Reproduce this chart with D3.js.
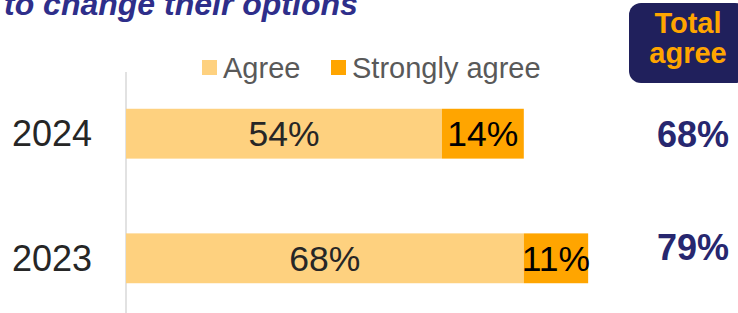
<!DOCTYPE html>
<html>
<head>
<meta charset="utf-8">
<script src="https://cdn.jsdelivr.net/npm/d3@7"></script>
<style>
  html, body { margin: 0; padding: 0; background: #fff; }
  svg { display: block; font-family: "Liberation Sans", Arial, sans-serif; }
</style>
</head>
<body>
<svg id="chart" width="738" height="313"></svg>
<script>
// Datos
const years = ["2024", "2023"];
const agree = [54, 68];
const stronglyAgree = [14, 11];
const totalAgree = [68, 79];
const seriesNames = ["Agree", "Strongly agree"];
const titleText = "to change their options";

// Colores
const cAgree = "#FED17F";
const cStrong = "#FFA500";
const navy = "#27276F";
const boxNavy = "#20205C";

const svg = d3.select("#chart");

// Escalas
const x = d3.scaleLinear().domain([0, 100]).range([126, 711]);
const y = d3.scaleBand().domain(years).range([34, 358]).padding(0.6);
const totalNudge = { "2023": -11 };

// Título (cortado arriba)
svg.append("text")
  .attr("x", 4).attr("y", 15)
  .attr("fill", "#2E2E8A")
  .attr("font-size", 32).attr("font-weight", "bold").attr("font-style", "italic")
  .text(titleText);

// Caja "Total agree"
svg.append("rect")
  .attr("x", 629).attr("y", 3).attr("width", 118).attr("height", 80)
  .attr("rx", 12).attr("fill", boxNavy);
svg.append("text")
  .attr("x", 688).attr("y", 33).attr("text-anchor", "middle")
  .attr("fill", cStrong).attr("font-size", 29).attr("font-weight", "bold")
  .text("Total");
svg.append("text")
  .attr("x", 688).attr("y", 63).attr("text-anchor", "middle")
  .attr("fill", cStrong).attr("font-size", 29).attr("font-weight", "bold")
  .text("agree");

// Leyenda
const legendX = [202, 331];
seriesNames.forEach((name, i) => {
  svg.append("rect")
    .attr("x", legendX[i]).attr("y", 60).attr("width", 15).attr("height", 15)
    .attr("fill", i === 0 ? cAgree : cStrong);
  svg.append("text")
    .attr("x", legendX[i] + 21).attr("y", 78)
    .attr("fill", "#595959").attr("font-size", 29)
    .text(name);
});

// Eje vertical
svg.append("line")
  .attr("x1", x(0)).attr("x2", x(0))
  .attr("y1", 72).attr("y2", 313)
  .attr("stroke", "#D9D9D9").attr("stroke-width", 1.5);

// Barras
const rows = years.map((yr, i) => ({ yr, a: agree[i], s: stronglyAgree[i], t: totalAgree[i] }));
const g = svg.append("g");

g.selectAll(".bar-a").data(rows).join("rect")
  .attr("x", x(0)).attr("y", d => y(d.yr))
  .attr("width", d => x(d.a) - x(0)).attr("height", y.bandwidth())
  .attr("fill", cAgree);

g.selectAll(".bar-s").data(rows).join("rect")
  .attr("x", d => x(d.a)).attr("y", d => y(d.yr))
  .attr("width", d => x(d.a + d.s) - x(d.a)).attr("height", y.bandwidth())
  .attr("fill", cStrong);

// Etiquetas dentro de las barras
g.selectAll(".lbl-a").data(rows).join("text")
  .attr("x", d => (x(0) + x(d.a)) / 2)
  .attr("y", d => y(d.yr) + y.bandwidth() / 2)
  .attr("dy", "0.36em").attr("text-anchor", "middle")
  .attr("font-size", 35.5).attr("fill", "#262626")
  .text(d => d.a + "%");

g.selectAll(".lbl-s").data(rows).join("text")
  .attr("x", d => (x(d.a) + x(d.a + d.s)) / 2)
  .attr("y", d => y(d.yr) + y.bandwidth() / 2)
  .attr("dy", "0.36em").attr("text-anchor", "middle")
  .attr("font-size", 35.5).attr("fill", "#000")
  .text(d => d.s + "%");

// Años
g.selectAll(".yr").data(rows).join("text")
  .attr("x", 92)
  .attr("y", d => y(d.yr) + y.bandwidth() / 2)
  .attr("dy", "0.34em").attr("text-anchor", "end")
  .attr("font-size", 36).attr("fill", "#262626")
  .text(d => d.yr);

// Total agree
g.selectAll(".tot").data(rows).join("text")
  .attr("x", 693)
  .attr("y", d => y(d.yr) + y.bandwidth() / 2 + (totalNudge[d.yr] || 0))
  .attr("dy", "0.36em").attr("text-anchor", "middle")
  .attr("font-size", 36).attr("font-weight", "bold").attr("fill", navy)
  .text(d => d.t + "%");
</script>
</body>
</html>
